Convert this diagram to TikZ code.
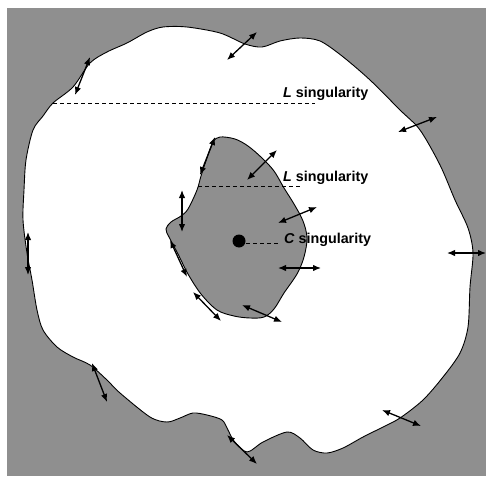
\documentclass[tikz,border=0pt]{standalone}
\usepackage{fontspec}
\setmainfont{Liberation Sans}
\usetikzlibrary{arrows.meta}
\definecolor{bggray}{RGB}{143,143,143}
\tikzset{
  dbl/.style={line width=1.3pt,{Latex[length=8pt,width=6.5pt]}-{Latex[length=8pt,width=6.5pt]}},
  blob/.style={line width=0.9pt,draw=black},
  lead/.style={line width=0.9pt,dash pattern=on 4pt off 3pt},
  lab/.style={anchor=base west,inner sep=0pt,font=\fontsize{14.3}{16}\selectfont\bfseries}
}
\begin{document}
\begin{tikzpicture}[x=1pt,y=-1pt]
\useasboundingbox (0,0) rectangle (486,476);
\fill[white] (0,0) rectangle (486,476);
\fill[bggray] (7,8) rectangle (486,476);
% outer region
\filldraw[blob,fill=white] plot[smooth cycle,tension=0.5] coordinates {
 (53,103) (73,87) (90,63) (107,52) (127,43) (147,32) (163,27) (187,27)
 (220,33) (245,44) (262,47) (280,41) (300,38) (320,41) (342,56) (370,80)
 (400,110) (420,130) (440,165) (455,200) (468,228) (473,253) (470,287)
 (468,327) (460,353) (443,377) (423,400) (400,418) (383,427) (363,437)
 (343,448) (327,453) (313,450) (300,438) (287,432) (263,442) (247,452)
 (234,441) (228,430) (222,420) (207,415) (193,413) (180,418) (167,422)
 (150,417) (120,393) (107,380) (90,365) (73,357) (57,347) (43,330)
 (37,310) (32,280) (27,253) (23,220) (24,190) (26,160) (33,130) (43,116)};
% inner region
\filldraw[blob,fill=bggray] plot[smooth cycle,tension=0.55] coordinates {
 (220,137) (235,139) (248,146) (262,158) (274,171) (284,188) (294,204)
 (303,221) (307,238) (304,257) (297,274) (284,293) (274,309) (264,317)
 (250,318) (234,316) (217,310) (201,294) (188,274) (178,254) (169,237)
 (166,229) (171,222) (181,216) (188,209) (197,190) (201,176) (207,158) (213,142)};
% dashed leaders
\coordinate (t1) at (53,103); \coordinate (t2) at (315,103);
\coordinate (m1) at (198,186); \coordinate (m2) at (302,186);
\coordinate (c1) at (246,243); \coordinate (c2) at (278,243);
\draw[lead] (t1) -- (t2);
\draw[lead] (m1) -- (m2);
\draw[lead] (c1) -- (c2);
\fill[black] (239,241) circle (6.5);
% labels
\node[lab] (lt) at (283,98) {\textit{L} singularity};
\node[lab] (lm) at (283,181) {\textit{L} singularity};
\node[lab] (lc) at (284,243) {\textit{C} singularity};
% arrows
\draw[dbl] (227,60) -- (257,32);
\draw[dbl] (75,95) -- (90,57);
\draw[dbl] (398,132) -- (437,117);
\draw[dbl] (247,180) -- (277,150);
\draw[dbl] (215,137) -- (200,175);
\draw[dbl] (182,190) -- (182,232);
\draw[dbl] (278,223) -- (317,207);
\draw[dbl] (278,268) -- (321,268);
\draw[dbl] (170,240) -- (187,277);
\draw[dbl] (193,292) -- (221,321);
\draw[dbl] (242,305) -- (282,322);
\draw[dbl] (28,232) -- (28,275);
\draw[dbl] (447,253) -- (486,253);
\draw[dbl] (92,363) -- (107,402);
\draw[dbl] (382,410) -- (421,426);
\draw[dbl] (227,435) -- (257,464);
\end{tikzpicture}
\end{document}
